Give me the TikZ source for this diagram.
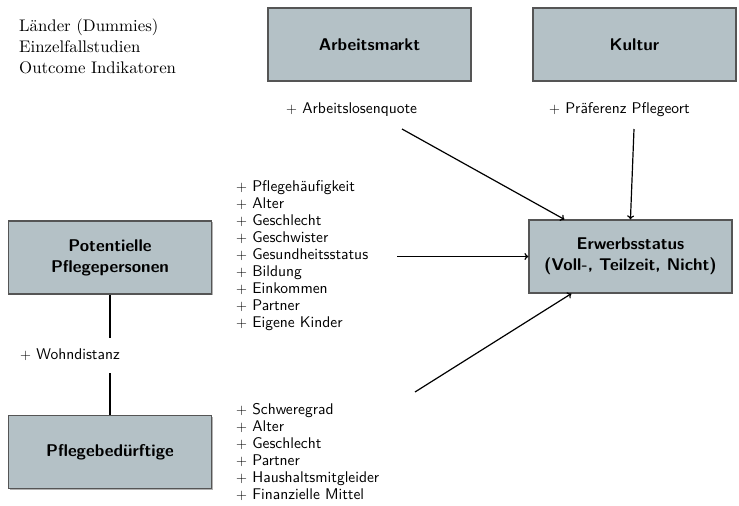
\documentclass[tikz,border=0pt]{standalone}
\usepackage{fontspec}
\usetikzlibrary{calc,arrows.meta,shadows}
\newfontfamily\lmsansten{lmsans10-regular.otf}[BoldFont=lmsans10-bold.otf]
\newfontfamily\lmromanten{lmroman10-regular.otf}
\definecolor{boxfill}{RGB}{180,193,198}
\definecolor{boxline}{RGB}{85,85,85}
\tikzset{
  factor/.style={draw=boxline, fill=boxfill, line width=1.1pt,
    minimum width=203pt, minimum height=73pt, inner sep=0pt, align=center,
    font=\lmsansten\bfseries\fontsize{17}{21}\selectfont,
    general shadow={shadow xshift=1pt, shadow yshift=-1pt, fill=black!30}},
  lbl/.style={inner sep=0pt, align=left, font=\lmsansten\fontsize{15.5}{17}\selectfont},
  note/.style={inner sep=0pt, anchor=base west, font=\lmromanten\fontsize{16.8}{21}\selectfont},
  conn/.style={line width=1.2pt, -{To[length=4pt,width=7pt]}},
  link/.style={line width=1.2pt},
}
\begin{document}
\begin{tikzpicture}[x=1pt,y=-1pt]
\useasboundingbox (0,0) rectangle (739,506);
% top-left notes
\node[note] (n1) at (19,31.7) {Länder (Dummies)};
\node[note] (n2) at (19,52.7) {Einzelfallstudien};
\node[note] (n3) at (19,73.5) {Outcome Indikatoren};
% boxes
\node[factor] (arb) at (369.5,44.5) {Arbeitsmarkt};
\node[factor] (kul) at (634.5,44.5) {Kultur};
\node[factor] (pot) at (110,257.5) {Potentielle\\Pflegepersonen};
\node[factor] (erw) at (630.5,256.5) {Erwerbsstatus\\(Voll-, Teilzeit, Nicht)};
\node[factor] (pfl) at (110,452) {Pflegebedürftige};
% labels
\node[lbl, anchor=west] (alq) at (286,110) {$+$ Arbeitslosenquote};
\node[lbl, anchor=west] (pref) at (549,110) {$+$ Präferenz Pflegeort};
\node[lbl, anchor=west] (potlist) at (236,256)
  {$+$ Pflegehäufigkeit\\$+$ Alter\\$+$ Geschlecht\\$+$ Geschwister\\$+$ Gesundheitsstatus\\$+$ Bildung\\$+$ Einkommen\\$+$ Partner\\$+$ Eigene Kinder};
\node[lbl, anchor=west] (pfllist) at (236,451.5)
  {$+$ Schweregrad\\$+$ Alter\\$+$ Geschlecht\\$+$ Partner\\$+$ Haushaltsmitgleider\\$+$ Finanzielle Mittel};
\node[lbl, anchor=west] (wohn) at (20,355) {$+$ Wohndistanz};
% connector ends
\coordinate (a1) at (402,129);
\coordinate (k1) at (634,129);
\coordinate (g1) at (397,256.5);
\coordinate (b1) at (415,392);
\coordinate (w1) at (110,338);
\coordinate (w2) at (110,373);
% connectors
\draw[conn] (a1) -- ($(erw.north west)+(36,0)$);
\draw[conn] (k1) -- ($(erw.north west)+(102,0)$);
\draw[conn] (g1) -- (erw.west);
\draw[conn] (b1) -- ($(erw.south west)+(43,0)$);
\draw[link] (pot.south) -- (w1);
\draw[link] (w2) -- (pfl.north);
\end{tikzpicture}
\end{document}
